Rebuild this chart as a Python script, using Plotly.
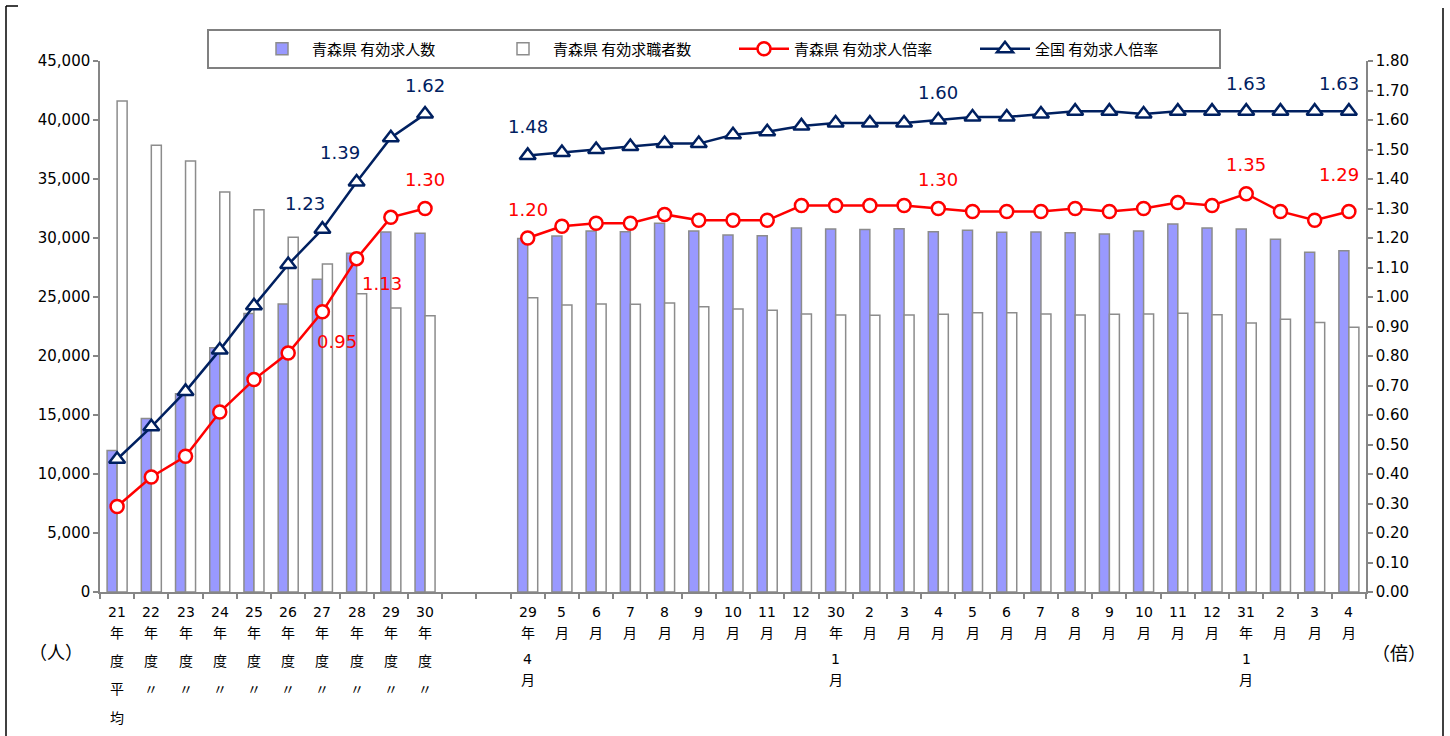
import plotly.graph_objects as go
from plotly.subplots import make_subplots

# ---------------- data ----------------
annual_labels = ["21\n年\n度\n平\n均", "22\n年\n度\n〃", "23\n年\n度\n〃", "24\n年\n度\n〃",
                 "25\n年\n度\n〃", "26\n年\n度\n〃", "27\n年\n度\n〃", "28\n年\n度\n〃",
                 "29\n年\n度\n〃", "30\n年\n度\n〃"]
monthly_labels = ["29\n年\n4\n月", "5\n月", "6\n月", "7\n月", "8\n月", "9\n月", "10\n月", "11\n月",
                  "12\n月", "30\n年\n1\n月", "2\n月", "3\n月", "4\n月", "5\n月", "6\n月", "7\n月",
                  "8\n月", "9\n月", "10\n月", "11\n月", "12\n月", "31\n年\n1\n月", "2\n月", "3\n月", "4\n月"]

annual_offers = [12000, 14700, 16800, 20700, 23600, 24400, 26500, 28700, 30500, 30400]
annual_seekers = [41600, 37850, 36530, 33900, 32400, 30060, 27800, 25280, 24070, 23420]
annual_aomori_ratio = [0.29, 0.39, 0.46, 0.61, 0.72, 0.81, 0.95, 1.13, 1.27, 1.30]
annual_japan_ratio = [0.45, 0.56, 0.68, 0.82, 0.97, 1.11, 1.23, 1.39, 1.54, 1.62]

monthly_offers = [29950, 30170, 30590, 30540, 31240, 30590, 30250, 30200, 30850, 30760, 30730, 30790,
                  30540, 30650, 30480, 30510, 30450, 30340, 30590, 31190, 30850, 30760, 29890, 28790, 28930]
monthly_seekers = [24940, 24320, 24410, 24380, 24490, 24180, 23980, 23870, 23560, 23470, 23450, 23470,
                   23530, 23670, 23670, 23560, 23470, 23530, 23560, 23620, 23500, 22800, 23110, 22830, 22430]
monthly_aomori_ratio = [1.20, 1.24, 1.25, 1.25, 1.28, 1.26, 1.26, 1.26, 1.31, 1.31, 1.31, 1.31,
                        1.30, 1.29, 1.29, 1.29, 1.30, 1.29, 1.30, 1.32, 1.31, 1.35, 1.29, 1.26, 1.29]
monthly_japan_ratio = [1.48, 1.49, 1.50, 1.51, 1.52, 1.52, 1.55, 1.56, 1.58, 1.59, 1.59, 1.59,
                       1.60, 1.61, 1.61, 1.62, 1.63, 1.63, 1.62, 1.63, 1.63, 1.63, 1.63, 1.63, 1.63]

gap_count = 2
series_names = ["青森県 有効求人数", "青森県 有効求職者数", "青森県 有効求人倍率", "全国 有効求人倍率"]

# categories (index in combined axis) that carry a data label
japan_label_idx = [6, 7, 9, 12, 24, 33, 36]
aomori_label_idx = [6, 7, 9, 12, 24, 33, 36]

# ---------------- build ----------------
gap = [None] * gap_count
offers = annual_offers + gap + monthly_offers
seekers = annual_seekers + gap + monthly_seekers
aomori = annual_aomori_ratio + gap + monthly_aomori_ratio
japan = annual_japan_ratio + gap + monthly_japan_ratio
labels = annual_labels + [""] * gap_count + monthly_labels
n = len(labels)
xs = list(range(n))

PURPLE = "#9999FF"
GRAY = "#8C8C8C"
RED = "#FF0000"
NAVY = "#002060"
NUMFONT = "DejaVu Sans, Verdana, sans-serif"
JPFONT = "Noto Sans CJK JP, sans-serif"

fig = make_subplots(specs=[[{"secondary_y": True}]])

fig.add_trace(go.Bar(x=xs, y=offers, name=series_names[0],
                     marker=dict(color=PURPLE, line=dict(color=GRAY, width=1.5))), secondary_y=False)
fig.add_trace(go.Bar(x=xs, y=seekers, name=series_names[1],
                     marker=dict(color="#FFFFFF", line=dict(color=GRAY, width=1.5))), secondary_y=False)
fig.add_trace(go.Scatter(x=xs, y=aomori, name=series_names[2], mode="lines+markers", connectgaps=False,
                         line=dict(color=RED, width=2.5),
                         marker=dict(symbol="circle", size=13, color="#FFFFFF", line=dict(color=RED, width=2.5))),
              secondary_y=True)
fig.add_trace(go.Scatter(x=xs, y=japan, name=series_names[3], mode="lines+markers", connectgaps=False,
                         line=dict(color=NAVY, width=2.5),
                         marker=dict(symbol="triangle-up", size=14, color="#FFFFFF", line=dict(color=NAVY, width=2.5))),
              secondary_y=True)

annotations = []
# data labels
japan_shift = {6: (-17, 26), 7: (-17, 29), 9: (0, 29), 12: (0, 29), 24: (0, 28), 33: (0, 28), 36: (-10, 28)}
aomori_shift = {6: (15, -30), 7: (25, -25), 9: (0, 29), 12: (0, 29), 24: (0, 29), 33: (0, 29), 36: (-10, 37)}
for i in japan_label_idx:
    dx, dy = japan_shift[i]
    annotations.append(dict(x=i, y=japan[i], xref="x", yref="y2", text=f"{japan[i]:.2f}", showarrow=False,
                            xshift=dx, yshift=dy, font=dict(family=NUMFONT, size=18, color=NAVY)))
for i in aomori_label_idx:
    dx, dy = aomori_shift[i]
    annotations.append(dict(x=i, y=aomori[i], xref="x", yref="y2", text=f"{aomori[i]:.2f}", showarrow=False,
                            xshift=dx, yshift=dy, font=dict(family=NUMFONT, size=18, color=RED)))

# category labels (stacked characters)
AXIS_Y = 592
rows_annual = [612, 633, 661, 689, 718]
rows_monthly = [612, 633, 659, 680]
for i, lab in enumerate(labels):
    if not lab:
        continue
    rows = rows_annual if i < len(annual_labels) else rows_monthly
    for r, part in enumerate(lab.split("\n")):
        annotations.append(dict(x=i, y=0, xref="x", yref="paper", text=part, showarrow=False,
                                xanchor="center", yanchor="middle", yshift=AXIS_Y - rows[r],
                                font=dict(family=NUMFONT + ", " + JPFONT, size=14, color="#000000")))

# unit labels
def px2paper(px, py):
    return (px - 100) / 1266, (592 - py) / 531

ux, uy = px2paper(56, 651)
annotations.append(dict(x=ux, y=uy, xref="paper", yref="paper", text="（人）", showarrow=False,
                        xanchor="center", yanchor="middle",
                        font=dict(family=JPFONT, size=18, color="#000000")))
ux, uy = px2paper(1399, 652)
annotations.append(dict(x=ux, y=uy, xref="paper", yref="paper", text="（倍）", showarrow=False,
                        xanchor="center", yanchor="middle",
                        font=dict(family=JPFONT, size=18, color="#000000")))

shapes = []
# legend box
x0, y0 = px2paper(208, 30)
x1, y1 = px2paper(1220, 68)
shapes.append(dict(type="rect", xref="paper", yref="paper", x0=x0, y0=y0, x1=x1, y1=y1,
                   line=dict(color="#808080", width=2), fillcolor="rgba(0,0,0,0)"))
# outer frame lines
for (ax, ay, bx, by) in [(6, 6, 6, 736), (6, 6, 18, 6), (1443, 8, 1443, 736)]:
    a = px2paper(ax, ay)
    b = px2paper(bx, by)
    shapes.append(dict(type="line", xref="paper", yref="paper", x0=a[0], y0=a[1], x1=b[0], y1=b[1],
                       line=dict(color="#000000", width=1.5)))

lx, ly = px2paper(252, 49)
fig.update_layout(
    width=1450, height=736, autosize=False,
    margin=dict(l=100, r=84, t=61, b=144, pad=0),
    paper_bgcolor="#FFFFFF", plot_bgcolor="#FFFFFF",
    barmode="group", bargap=0.415, bargroupgap=0,
    showlegend=True,
    legend=dict(orientation="h", x=lx, y=ly, xanchor="left", yanchor="middle",
                bgcolor="rgba(0,0,0,0)", borderwidth=0,
                font=dict(family=JPFONT, size=15, color="#000000"),
                itemwidth=50, entrywidth=176, traceorder="normal"),
    annotations=annotations, shapes=shapes,
)

fig.update_xaxes(domain=[0, 1], range=[-0.5, n - 0.5], tickmode="array", tickvals=[k - 0.5 for k in range(n + 1)],
                 showticklabels=False, ticks="outside", ticklen=5, tickwidth=1.5, tickcolor="#868686",
                 showline=True, linecolor="#868686", linewidth=1.5, showgrid=False, zeroline=False)
fig.update_yaxes(range=[0, 45000], dtick=5000, tickformat=",", ticks="outside", ticklen=5, tickwidth=1.5,
                 tickcolor="#868686", showline=True, linecolor="#868686", linewidth=1.5, showgrid=False,
                 zeroline=False, tickfont=dict(family=NUMFONT, size=15, color="#000000"), secondary_y=False)
fig.update_yaxes(range=[0, 1.8000001], dtick=0.1, tickformat=".2f", ticks="outside", ticklen=5, tickwidth=1.5,
                 tickcolor="#868686", showline=True, linecolor="#868686", linewidth=1.5, showgrid=False,
                 zeroline=False, tickfont=dict(family=NUMFONT, size=15, color="#000000"), secondary_y=True)

fig.write_html("out.html")
